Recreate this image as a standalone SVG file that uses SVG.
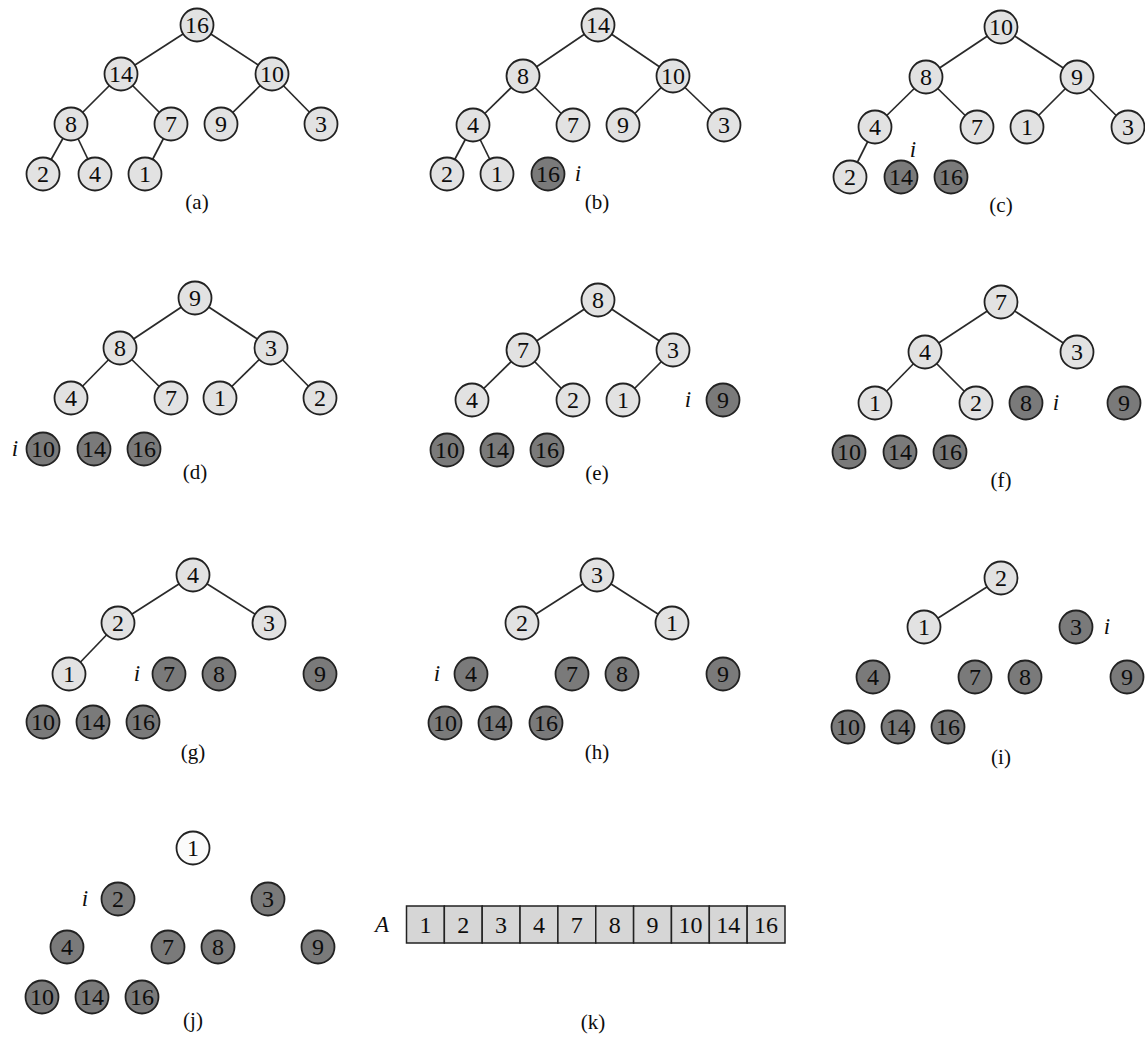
<svg xmlns="http://www.w3.org/2000/svg" width="1145" height="1045" viewBox="0 0 1145 1045">
<style>
  circle{stroke:#222;stroke-width:1.8}
  .l circle{fill:#e2e2e2}
  .d circle{fill:#7a7a7a}
  .w circle{fill:#fbfbfb}
  text{font-family:"Liberation Serif","Times New Roman",serif;fill:#0d0d0d}
  .n text{font-size:24px;text-anchor:middle}
  .cap{font-size:21px;text-anchor:middle}
  .it{font-size:23px;font-style:italic;text-anchor:middle}
  .edges line{stroke:#2a2a2a;stroke-width:1.7}
  .cell{fill:#d6d6d6;stroke:#222;stroke-width:1.5}
  .ct{font-size:24px;text-anchor:middle}
</style>
<g class="edges">
  <line x1="197" y1="25" x2="121" y2="74"/><line x1="197" y1="25" x2="272" y2="74"/>
  <line x1="121" y1="74" x2="71" y2="124"/><line x1="121" y1="74" x2="171" y2="124"/>
  <line x1="272" y1="74" x2="221" y2="124"/><line x1="272" y1="74" x2="321" y2="124"/>
  <line x1="71" y1="124" x2="43" y2="174"/><line x1="71" y1="124" x2="95" y2="174"/>
  <line x1="171" y1="124" x2="145" y2="174"/>
  <line x1="598" y1="25" x2="523" y2="76"/><line x1="598" y1="25" x2="673" y2="76"/>
  <line x1="523" y1="76" x2="473" y2="125"/><line x1="523" y1="76" x2="573" y2="125"/>
  <line x1="673" y1="76" x2="623" y2="125"/><line x1="673" y1="76" x2="724" y2="125"/>
  <line x1="473" y1="125" x2="447" y2="174"/><line x1="473" y1="125" x2="497" y2="174"/>
  <line x1="1001" y1="27" x2="926" y2="77"/><line x1="1001" y1="27" x2="1077" y2="77"/>
  <line x1="926" y1="77" x2="875" y2="127"/><line x1="926" y1="77" x2="977" y2="127"/>
  <line x1="1077" y1="77" x2="1027" y2="127"/><line x1="1077" y1="77" x2="1128" y2="127"/>
  <line x1="875" y1="127" x2="850" y2="177"/>
  <line x1="195" y1="298" x2="120" y2="348"/><line x1="195" y1="298" x2="271" y2="348"/>
  <line x1="120" y1="348" x2="71" y2="398"/><line x1="120" y1="348" x2="171" y2="398"/>
  <line x1="271" y1="348" x2="220" y2="398"/><line x1="271" y1="348" x2="320" y2="398"/>
  <line x1="598" y1="300" x2="523" y2="350"/><line x1="598" y1="300" x2="673" y2="350"/>
  <line x1="523" y1="350" x2="472" y2="400"/><line x1="523" y1="350" x2="573" y2="400"/>
  <line x1="673" y1="350" x2="623" y2="400"/>
  <line x1="1001" y1="302" x2="925" y2="352"/><line x1="1001" y1="302" x2="1077" y2="352"/>
  <line x1="925" y1="352" x2="875" y2="403"/><line x1="925" y1="352" x2="976" y2="403"/>
  <line x1="193" y1="575" x2="118" y2="623"/><line x1="193" y1="575" x2="269" y2="623"/>
  <line x1="118" y1="623" x2="69" y2="674"/>
  <line x1="597" y1="575" x2="522" y2="623"/><line x1="597" y1="575" x2="672" y2="623"/>
  <line x1="1001" y1="578" x2="924" y2="627"/>
</g>

<g id="panel-a">
  <g id="a16" class="n l"><circle cx="197" cy="25" r="16.5"/><text x="197" y="33">16</text></g>
  <g id="a14" class="n l"><circle cx="121" cy="74" r="16.5"/><text x="121" y="82">14</text></g>
  <g id="a10" class="n l"><circle cx="272" cy="74" r="16.5"/><text x="272" y="82">10</text></g>
  <g id="a8" class="n l"><circle cx="71" cy="124" r="16.5"/><text x="71" y="132">8</text></g>
  <g id="a7" class="n l"><circle cx="171" cy="124" r="16.5"/><text x="171" y="132">7</text></g>
  <g id="a9" class="n l"><circle cx="221" cy="124" r="16.5"/><text x="221" y="132">9</text></g>
  <g id="a3" class="n l"><circle cx="321" cy="124" r="16.5"/><text x="321" y="132">3</text></g>
  <g id="a2" class="n l"><circle cx="43" cy="174" r="16.5"/><text x="43" y="182">2</text></g>
  <g id="a4" class="n l"><circle cx="95" cy="174" r="16.5"/><text x="95" y="182">4</text></g>
  <g id="a1" class="n l"><circle cx="145" cy="174" r="16.5"/><text x="145" y="182">1</text></g>
  <text class="cap" x="197" y="209">(a)</text>
</g>

<g id="panel-b">
  <g id="b14" class="n l"><circle cx="598" cy="25" r="16.5"/><text x="598" y="33">14</text></g>
  <g id="b8" class="n l"><circle cx="523" cy="76" r="16.5"/><text x="523" y="84">8</text></g>
  <g id="b10" class="n l"><circle cx="673" cy="76" r="16.5"/><text x="673" y="84">10</text></g>
  <g id="b4" class="n l"><circle cx="473" cy="125" r="16.5"/><text x="473" y="133">4</text></g>
  <g id="b7" class="n l"><circle cx="573" cy="125" r="16.5"/><text x="573" y="133">7</text></g>
  <g id="b9" class="n l"><circle cx="623" cy="125" r="16.5"/><text x="623" y="133">9</text></g>
  <g id="b3" class="n l"><circle cx="724" cy="125" r="16.5"/><text x="724" y="133">3</text></g>
  <g id="b2" class="n l"><circle cx="447" cy="174" r="16.5"/><text x="447" y="182">2</text></g>
  <g id="b1" class="n l"><circle cx="497" cy="174" r="16.5"/><text x="497" y="182">1</text></g>
  <g id="b16" class="n d"><circle cx="548" cy="174" r="16.5"/><text x="548" y="182">16</text></g>
  <text class="it" x="578" y="181">i</text>
  <text class="cap" x="597" y="209">(b)</text>
</g>

<g id="panel-c">
  <g id="c10" class="n l"><circle cx="1001" cy="27" r="16.5"/><text x="1001" y="35">10</text></g>
  <g id="c8" class="n l"><circle cx="926" cy="77" r="16.5"/><text x="926" y="85">8</text></g>
  <g id="c9" class="n l"><circle cx="1077" cy="77" r="16.5"/><text x="1077" y="85">9</text></g>
  <g id="c4" class="n l"><circle cx="875" cy="127" r="16.5"/><text x="875" y="135">4</text></g>
  <g id="c7" class="n l"><circle cx="977" cy="127" r="16.5"/><text x="977" y="135">7</text></g>
  <g id="c1" class="n l"><circle cx="1027" cy="127" r="16.5"/><text x="1027" y="135">1</text></g>
  <g id="c3" class="n l"><circle cx="1128" cy="127" r="16.5"/><text x="1128" y="135">3</text></g>
  <g id="c2" class="n l"><circle cx="850" cy="177" r="16.5"/><text x="850" y="185">2</text></g>
  <g id="c14" class="n d"><circle cx="901" cy="177" r="16.5"/><text x="901" y="185">14</text></g>
  <g id="c16" class="n d"><circle cx="951" cy="177" r="16.5"/><text x="951" y="185">16</text></g>
  <text class="it" x="913" y="157">i</text>
  <text class="cap" x="1001" y="212">(c)</text>
</g>

<g id="panel-d">
  <g id="d9" class="n l"><circle cx="195" cy="298" r="16.5"/><text x="195" y="306">9</text></g>
  <g id="d8" class="n l"><circle cx="120" cy="348" r="16.5"/><text x="120" y="356">8</text></g>
  <g id="d3" class="n l"><circle cx="271" cy="348" r="16.5"/><text x="271" y="356">3</text></g>
  <g id="d4" class="n l"><circle cx="71" cy="398" r="16.5"/><text x="71" y="406">4</text></g>
  <g id="d7" class="n l"><circle cx="171" cy="398" r="16.5"/><text x="171" y="406">7</text></g>
  <g id="d1" class="n l"><circle cx="220" cy="398" r="16.5"/><text x="220" y="406">1</text></g>
  <g id="d2" class="n l"><circle cx="320" cy="398" r="16.5"/><text x="320" y="406">2</text></g>
  <g id="d10" class="n d"><circle cx="43" cy="449" r="16.5"/><text x="43" y="457">10</text></g>
  <g id="d14" class="n d"><circle cx="94" cy="449" r="16.5"/><text x="94" y="457">14</text></g>
  <g id="d16" class="n d"><circle cx="144" cy="449" r="16.5"/><text x="144" y="457">16</text></g>
  <text class="it" x="15" y="456">i</text>
  <text class="cap" x="195" y="479">(d)</text>
</g>

<g id="panel-e">
  <g id="e8" class="n l"><circle cx="598" cy="300" r="16.5"/><text x="598" y="308">8</text></g>
  <g id="e7" class="n l"><circle cx="523" cy="350" r="16.5"/><text x="523" y="358">7</text></g>
  <g id="e3" class="n l"><circle cx="673" cy="350" r="16.5"/><text x="673" y="358">3</text></g>
  <g id="e4" class="n l"><circle cx="472" cy="400" r="16.5"/><text x="472" y="408">4</text></g>
  <g id="e2" class="n l"><circle cx="573" cy="400" r="16.5"/><text x="573" y="408">2</text></g>
  <g id="e1" class="n l"><circle cx="623" cy="400" r="16.5"/><text x="623" y="408">1</text></g>
  <g id="e9" class="n d"><circle cx="723" cy="400" r="16.5"/><text x="723" y="408">9</text></g>
  <g id="e10" class="n d"><circle cx="447" cy="450" r="16.5"/><text x="447" y="458">10</text></g>
  <g id="e14" class="n d"><circle cx="497" cy="450" r="16.5"/><text x="497" y="458">14</text></g>
  <g id="e16" class="n d"><circle cx="547" cy="450" r="16.5"/><text x="547" y="458">16</text></g>
  <text class="it" x="688" y="407">i</text>
  <text class="cap" x="597" y="480">(e)</text>
</g>

<g id="panel-f">
  <g id="f7" class="n l"><circle cx="1001" cy="302" r="16.5"/><text x="1001" y="310">7</text></g>
  <g id="f4" class="n l"><circle cx="925" cy="352" r="16.5"/><text x="925" y="360">4</text></g>
  <g id="f3" class="n l"><circle cx="1077" cy="352" r="16.5"/><text x="1077" y="360">3</text></g>
  <g id="f1" class="n l"><circle cx="875" cy="403" r="16.5"/><text x="875" y="411">1</text></g>
  <g id="f2" class="n l"><circle cx="976" cy="403" r="16.5"/><text x="976" y="411">2</text></g>
  <g id="f8" class="n d"><circle cx="1026" cy="403" r="16.5"/><text x="1026" y="411">8</text></g>
  <g id="f9" class="n d"><circle cx="1124" cy="403" r="16.5"/><text x="1124" y="411">9</text></g>
  <g id="f10" class="n d"><circle cx="849" cy="452" r="16.5"/><text x="849" y="460">10</text></g>
  <g id="f14" class="n d"><circle cx="900" cy="452" r="16.5"/><text x="900" y="460">14</text></g>
  <g id="f16" class="n d"><circle cx="950" cy="452" r="16.5"/><text x="950" y="460">16</text></g>
  <text class="it" x="1056" y="410">i</text>
  <text class="cap" x="1001" y="487">(f)</text>
</g>

<g id="panel-g">
  <g id="g4" class="n l"><circle cx="193" cy="575" r="16.5"/><text x="193" y="583">4</text></g>
  <g id="g2" class="n l"><circle cx="118" cy="623" r="16.5"/><text x="118" y="631">2</text></g>
  <g id="g3" class="n l"><circle cx="269" cy="623" r="16.5"/><text x="269" y="631">3</text></g>
  <g id="g1" class="n l"><circle cx="69" cy="674" r="16.5"/><text x="69" y="682">1</text></g>
  <g id="g7" class="n d"><circle cx="169" cy="674" r="16.5"/><text x="169" y="682">7</text></g>
  <g id="g8" class="n d"><circle cx="219" cy="674" r="16.5"/><text x="219" y="682">8</text></g>
  <g id="g9" class="n d"><circle cx="320" cy="674" r="16.5"/><text x="320" y="682">9</text></g>
  <g id="g10" class="n d"><circle cx="43" cy="722" r="16.5"/><text x="43" y="730">10</text></g>
  <g id="g14" class="n d"><circle cx="93" cy="722" r="16.5"/><text x="93" y="730">14</text></g>
  <g id="g16" class="n d"><circle cx="143" cy="722" r="16.5"/><text x="143" y="730">16</text></g>
  <text class="it" x="137" y="681">i</text>
  <text class="cap" x="193" y="759">(g)</text>
</g>

<g id="panel-h">
  <g id="h3" class="n l"><circle cx="597" cy="575" r="16.5"/><text x="597" y="583">3</text></g>
  <g id="h2" class="n l"><circle cx="522" cy="623" r="16.5"/><text x="522" y="631">2</text></g>
  <g id="h1" class="n l"><circle cx="672" cy="623" r="16.5"/><text x="672" y="631">1</text></g>
  <g id="h4" class="n d"><circle cx="471" cy="674" r="16.5"/><text x="471" y="682">4</text></g>
  <g id="h7" class="n d"><circle cx="572" cy="674" r="16.5"/><text x="572" y="682">7</text></g>
  <g id="h8" class="n d"><circle cx="622" cy="674" r="16.5"/><text x="622" y="682">8</text></g>
  <g id="h9" class="n d"><circle cx="723" cy="674" r="16.5"/><text x="723" y="682">9</text></g>
  <g id="h10" class="n d"><circle cx="445" cy="723" r="16.5"/><text x="445" y="731">10</text></g>
  <g id="h14" class="n d"><circle cx="495" cy="723" r="16.5"/><text x="495" y="731">14</text></g>
  <g id="h16" class="n d"><circle cx="546" cy="723" r="16.5"/><text x="546" y="731">16</text></g>
  <text class="it" x="437" y="681">i</text>
  <text class="cap" x="597" y="759">(h)</text>
</g>

<g id="panel-i">
  <g id="i2" class="n l"><circle cx="1001" cy="578" r="16.5"/><text x="1001" y="586">2</text></g>
  <g id="i1" class="n l"><circle cx="924" cy="627" r="16.5"/><text x="924" y="635">1</text></g>
  <g id="i3" class="n d"><circle cx="1076" cy="627" r="16.5"/><text x="1076" y="635">3</text></g>
  <g id="i4" class="n d"><circle cx="873" cy="677" r="16.5"/><text x="873" y="685">4</text></g>
  <g id="i7" class="n d"><circle cx="975" cy="677" r="16.5"/><text x="975" y="685">7</text></g>
  <g id="i8" class="n d"><circle cx="1025" cy="677" r="16.5"/><text x="1025" y="685">8</text></g>
  <g id="i9" class="n d"><circle cx="1127" cy="677" r="16.5"/><text x="1127" y="685">9</text></g>
  <g id="i10" class="n d"><circle cx="848" cy="727" r="16.5"/><text x="848" y="735">10</text></g>
  <g id="i14" class="n d"><circle cx="898" cy="727" r="16.5"/><text x="898" y="735">14</text></g>
  <g id="i16" class="n d"><circle cx="948" cy="727" r="16.5"/><text x="948" y="735">16</text></g>
  <text class="it" x="1107" y="634">i</text>
  <text class="cap" x="1001" y="764">(i)</text>
</g>

<g id="panel-j">
  <g id="j1" class="n w"><circle cx="193" cy="848" r="16.5"/><text x="193" y="856">1</text></g>
  <g id="j2" class="n d"><circle cx="118" cy="899" r="16.5"/><text x="118" y="907">2</text></g>
  <g id="j3" class="n d"><circle cx="268" cy="899" r="16.5"/><text x="268" y="907">3</text></g>
  <g id="j4" class="n d"><circle cx="67" cy="947" r="16.5"/><text x="67" y="955">4</text></g>
  <g id="j7" class="n d"><circle cx="168" cy="947" r="16.5"/><text x="168" y="955">7</text></g>
  <g id="j8" class="n d"><circle cx="218" cy="947" r="16.5"/><text x="218" y="955">8</text></g>
  <g id="j9" class="n d"><circle cx="318" cy="947" r="16.5"/><text x="318" y="955">9</text></g>
  <g id="j10" class="n d"><circle cx="42" cy="997" r="16.5"/><text x="42" y="1005">10</text></g>
  <g id="j14" class="n d"><circle cx="92" cy="997" r="16.5"/><text x="92" y="1005">14</text></g>
  <g id="j16" class="n d"><circle cx="142" cy="997" r="16.5"/><text x="142" y="1005">16</text></g>
  <text class="it" x="85" y="906">i</text>
  <text class="cap" x="193" y="1027">(j)</text>
</g>

<g id="panel-k">
  <text class="it" x="382" y="932">A</text>
  <g id="array">
    <rect class="cell" x="406.5" y="906" width="37.85" height="37"/>
    <rect class="cell" x="444.35" y="906" width="37.85" height="37"/>
    <rect class="cell" x="482.2" y="906" width="37.85" height="37"/>
    <rect class="cell" x="520.05" y="906" width="37.85" height="37"/>
    <rect class="cell" x="557.9" y="906" width="37.85" height="37"/>
    <rect class="cell" x="595.75" y="906" width="37.85" height="37"/>
    <rect class="cell" x="633.6" y="906" width="37.85" height="37"/>
    <rect class="cell" x="671.45" y="906" width="37.85" height="37"/>
    <rect class="cell" x="709.3" y="906" width="37.85" height="37"/>
    <rect class="cell" x="747.15" y="906" width="37.85" height="37"/>
    <text class="ct" x="425.4" y="933">1</text>
    <text class="ct" x="463.3" y="933">2</text>
    <text class="ct" x="501.1" y="933">3</text>
    <text class="ct" x="539" y="933">4</text>
    <text class="ct" x="576.8" y="933">7</text>
    <text class="ct" x="614.7" y="933">8</text>
    <text class="ct" x="652.5" y="933">9</text>
    <text class="ct" x="690.4" y="933">10</text>
    <text class="ct" x="728.2" y="933">14</text>
    <text class="ct" x="766.1" y="933">16</text>
  </g>
  <text class="cap" x="593" y="1029">(k)</text>
</g>
</svg>
